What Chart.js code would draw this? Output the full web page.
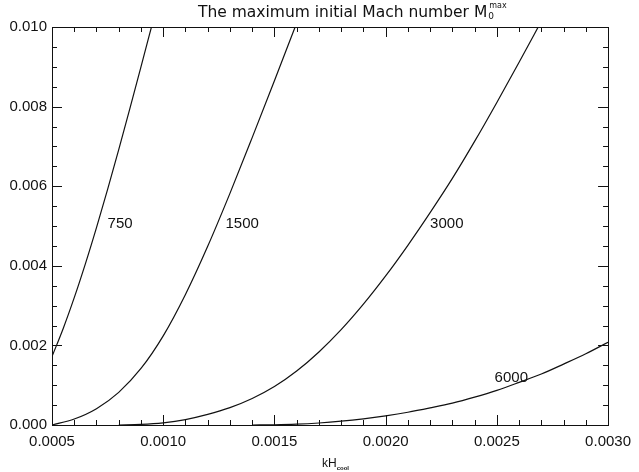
<!DOCTYPE html>
<html>
<head>
<meta charset="utf-8">
<script src="https://cdn.jsdelivr.net/npm/chart.js@4/dist/chart.umd.min.js"></script>
<style>
  html, body { margin: 0; padding: 0; background: #fff; }
</style>
</head>
<body>
<canvas id="chart" width="639" height="472"></canvas>
<script>
// M0max curves
const x750  = [0.0005, 0.00055, 0.0006, 0.00065, 0.0007, 0.00075, 0.0008, 0.00085, 0.0009, 0.00095];
const y750  = [0.00172, 0.00242, 0.0032, 0.00405, 0.00496, 0.00592, 0.00692, 0.00795, 0.0090, 0.01006];

const x1500 = [0.0005, 0.0006, 0.0007, 0.0008, 0.0009, 0.0010, 0.0011, 0.0012, 0.0013, 0.0014, 0.0015, 0.0016];
const y1500 = [0.0, 0.00015, 0.00041, 0.00082, 0.00142, 0.00224, 0.00328, 0.00449, 0.00582, 0.00722, 0.00865, 0.0101];

const x3000 = [0.0008, 0.0009, 0.0010, 0.0011, 0.0012, 0.0013, 0.0014, 0.0015, 0.0016, 0.0017, 0.0018, 0.0019, 0.0020, 0.0021, 0.0022, 0.0023, 0.0024, 0.0025, 0.0026, 0.0027];
const y3000 = [0.0, 0.000015, 0.000055, 0.000135, 0.000265, 0.000435, 0.000665, 0.000965, 0.001355, 0.001835, 0.002395, 0.003035, 0.003745, 0.004515, 0.005335, 0.006195, 0.007125, 0.008105, 0.009115, 0.010145];

const x6000 = [0.0014, 0.0015, 0.0016, 0.0017, 0.0018, 0.0019, 0.0020, 0.0021, 0.0022, 0.0023, 0.0024, 0.0025, 0.0026, 0.0027, 0.0028, 0.0029, 0.0030];
const y6000 = [0.0, 0.000005, 0.00002, 0.00005, 0.000095, 0.000155, 0.00023, 0.00032, 0.00043, 0.00055, 0.0007, 0.00087, 0.00107, 0.00128, 0.00153, 0.00179, 0.00208];

const curveNames = ['750', '1500', '3000', '6000'];
// where each curve label sits (data units, left edge / middle)
const labelX = [0.00075, 0.00128, 0.00220, 0.00249];
const labelY = [0.00505, 0.00505, 0.00505, 0.00118];

const xTicks = [0.0005, 0.0010, 0.0015, 0.0020, 0.0025, 0.0030];
const yTicks = [0.000, 0.002, 0.004, 0.006, 0.008, 0.010];
const xMinorStep = 0.0001;
const yMinorStep = 0.0005;

const seriesX = [x750, x1500, x3000, x6000];
const seriesY = [y750, y1500, y3000, y6000];

const datasets = seriesX.map((xs, i) => ({
    label: curveNames[i],
    data: xs.map((x, j) => ({ x: x, y: seriesY[i][j] })),
    showLine: true,
    borderColor: '#111',
    borderWidth: 1.2,
    pointRadius: 0,
    cubicInterpolationMode: 'monotone'
}));

// frame with inward ticks on all sides, curve labels, titles
const idlFrame = {
    id: 'idlFrame',
    afterDraw(chart) {
        const ctx = chart.ctx;
        const a = chart.chartArea;
        const xs = chart.scales.x;
        const ys = chart.scales.y;
        ctx.save();
        ctx.strokeStyle = '#111';
        ctx.lineWidth = 1;
        ctx.strokeRect(Math.round(a.left) + 0.5, Math.round(a.top) + 0.5,
            Math.round(a.right - a.left), Math.round(a.bottom - a.top));

        ctx.beginPath();
        const nx = Math.round((xs.max - xs.min) / xMinorStep);
        for (let i = 0; i <= nx; i++) {
            const v = xs.min + i * xMinorStep;
            const px = Math.round(xs.getPixelForValue(v)) + 0.5;
            const len = (i % 5 === 0) ? 10 : 5;
            ctx.moveTo(px, a.bottom); ctx.lineTo(px, a.bottom - len);
            ctx.moveTo(px, a.top); ctx.lineTo(px, a.top + len);
        }
        const ny = Math.round((ys.max - ys.min) / yMinorStep);
        for (let i = 0; i <= ny; i++) {
            const v = ys.min + i * yMinorStep;
            const py = Math.round(ys.getPixelForValue(v)) + 0.5;
            const len = (i % 4 === 0) ? 10 : 5;
            ctx.moveTo(a.left, py); ctx.lineTo(a.left + len, py);
            ctx.moveTo(a.right, py); ctx.lineTo(a.right - len, py);
        }
        ctx.stroke();

        // curve labels
        ctx.fillStyle = '#111';
        ctx.font = '15px "Liberation Sans", Arial, sans-serif';
        ctx.textAlign = 'left';
        ctx.textBaseline = 'middle';
        curveNames.forEach((name, i) => {
            ctx.fillText(name, xs.getPixelForValue(labelX[i]), ys.getPixelForValue(labelY[i]));
        });

        // title: The maximum initial Mach number M_0^max
        ctx.textBaseline = 'alphabetic';
        ctx.font = '15.5px "DejaVu Sans", sans-serif';
        const main = 'The maximum initial Mach number M';
        let tx = 198;
        const ty = 17;
        ctx.fillText(main, tx, ty);
        tx += ctx.measureText(main).width + 1;
        ctx.font = '9px "DejaVu Sans", sans-serif';
        ctx.fillText('0', tx, ty + 2);
        ctx.font = '8px "DejaVu Sans", sans-serif';
        ctx.fillText('max', tx + 1, ty - 9);

        // x axis title: kH_cool
        ctx.font = '12px "Liberation Sans", Arial, sans-serif';
        const kh = 'kH';
        const kx = 322;
        ctx.fillText(kh, kx, 467);
        ctx.font = 'bold 6px "Liberation Sans", Arial, sans-serif';
        ctx.fillText('cool', kx + ctx.measureText(kh).width + 7, 470);
        ctx.restore();
    }
};

new Chart(document.getElementById('chart'), {
    type: 'scatter',
    data: { datasets },
    options: {
        responsive: false,
        animation: false,
        devicePixelRatio: 1,
        layout: { padding: { top: 27, right: 25, left: 0, bottom: 0 } },
        plugins: {
            legend: { display: false },
            tooltip: { enabled: false },
            title: { display: false }
        },
        scales: {
            x: {
                type: 'linear',
                min: 0.0005,
                max: 0.0030,
                grid: { display: false, drawTicks: false },
                border: { display: false },
                afterBuildTicks: (scale) => { scale.ticks = xTicks.map(v => ({ value: v })); },
                afterFit: (scale) => { scale.height = 47; },
                ticks: {
                    padding: 8,
                    color: '#111',
                    maxRotation: 0,
                    font: { family: '"Liberation Sans", Arial, sans-serif', size: 15 },
                    callback: (v) => Number(v).toFixed(4)
                }
            },
            y: {
                type: 'linear',
                min: 0,
                max: 0.010,
                grid: { display: false, drawTicks: false },
                border: { display: false },
                afterBuildTicks: (scale) => { scale.ticks = yTicks.map(v => ({ value: v })); },
                afterFit: (scale) => { scale.width = 52; },
                ticks: {
                    padding: 5,
                    color: '#111',
                    font: { family: '"Liberation Sans", Arial, sans-serif', size: 15 },
                    callback: (v) => Number(v).toFixed(3)
                }
            }
        }
    },
    plugins: [idlFrame]
});
</script>
</body>
</html>
